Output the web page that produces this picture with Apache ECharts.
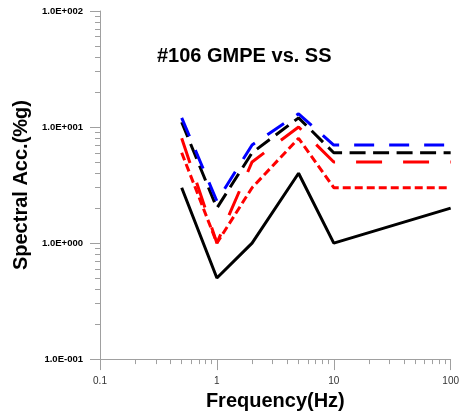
<!DOCTYPE html>
<html>
<head>
<meta charset="utf-8">
<script src="https://cdn.jsdelivr.net/npm/echarts@6/dist/echarts.min.js"></script>
<style>html,body{margin:0;padding:0;background:#fff;}#c{width:462px;height:416px;}</style>
</head>
<body>
<div id="c"></div>
<script>
var frequencies = [0.5, 1, 2, 5, 10, 100];
var blackSolid = [3, 0.5, 1.0, 4, 1.0, 2];
var redShortDash = [6, 1.0, 3, 8, 3, 3];
var redLongDash = [8, 1.0, 5, 10, 5, 5];
var blackDash = [11, 2, 6, 12, 6, 6];
var blueLongDash = [12, 2.3, 7, 13, 7, 7];
var xMinorTicks = [0.2,0.3,0.4,0.5,0.6,0.7,0.8,0.9,2,3,4,5,6,7,8,9,20,30,40,50,60,70,80,90];
var yMinorTicks = [0.2,0.3,0.4,0.5,0.6,0.7,0.8,0.9,2,3,4,5,6,7,8,9,20,30,40,50,60,70,80,90];
var titleText = '#106 GMPE vs. SS';
var xName = 'Frequency(Hz)';
var yName = 'Spectral Acc.(%g)';

function pairs(ys){ return frequencies.map(function(f,i){return [f, ys[i]];}); }
function expLabel(v){
  var e = Math.round(Math.log10(v));
  var s = e < 0 ? '-' : '+';
  var a = Math.abs(e);
  return '1.0E' + s + ('000' + a).slice(-3);
}
var axisGray = '#a0a0a0';
var chart = echarts.init(document.getElementById('c'));
function mkSeries(ys, color, dash){
  return {type:'line', data: pairs(ys), showSymbol:false, symbol:'none', animation:false,
    lineStyle:{color:color, width:3, type:dash}, xAxisIndex:0, yAxisIndex:0};
}
chart.setOption({
  animation:false,
  title:{text:titleText, left:157, top:46, padding:0,
    textStyle:{fontFamily:'Liberation Sans, Arial', fontWeight:'bold', fontSize:20, color:'#000'}},
  grid:{left:100, right:11, top:11, bottom:56, containLabel:false},
  xAxis:[
    {type:'log', logBase:10, min:0.1, max:100, position:'bottom',
      name:xName, nameLocation:'middle', nameGap:28,
      nameTextStyle:{fontFamily:'Liberation Sans, Arial', fontWeight:'bold', fontSize:20, color:'#000'},
      axisLine:{show:true, lineStyle:{color:axisGray, width:1}},
      axisTick:{show:true, length:11, inside:false, lineStyle:{color:axisGray}},
      axisLabel:{show:true, margin:17, fontFamily:'Liberation Sans, Arial', fontSize:10, color:'#333',
        formatter:function(v){return String(+v.toPrecision(3));}},
      splitLine:{show:false}, minorTick:{show:false}},
    {type:'log', logBase:10, min:0.1, max:100, position:'bottom', gridIndex:0,
      axisLine:{show:false},
      axisTick:{show:true, length:5, inside:false, customValues:xMinorTicks, lineStyle:{color:axisGray}},
      axisLabel:{show:false}, splitLine:{show:false}}
  ],
  yAxis:[
    {type:'log', logBase:10, min:0.1, max:100, position:'left',
      name:yName, nameLocation:'middle', nameGap:62, nameRotate:90,
      nameTextStyle:{fontFamily:'Liberation Sans, Arial', fontWeight:'bold', fontSize:20, color:'#000'},
      axisLine:{show:true, lineStyle:{color:axisGray, width:1}},
      axisTick:{show:true, length:10, inside:false, lineStyle:{color:axisGray}},
      axisLabel:{show:true, margin:17, fontFamily:'Liberation Sans, Arial', fontWeight:'bold', fontSize:9.5, color:'#000',
        formatter:expLabel},
      splitLine:{show:false}},
    {type:'log', logBase:10, min:0.1, max:100, position:'left', gridIndex:0,
      axisLine:{show:false},
      axisTick:{show:true, length:5, inside:false, customValues:yMinorTicks, lineStyle:{color:axisGray}},
      axisLabel:{show:false}, splitLine:{show:false}}
  ],
  series:[
    mkSeries(blackSolid, '#000000', 'solid'),
    mkSeries(redShortDash, '#ff0000', [8,4]),
    mkSeries(redLongDash, '#ff0000', [26,21]),
    mkSeries(blackDash, '#000000', [16,7.5]),
    mkSeries(blueLongDash, '#0000ff', [20,15])
  ]
});
</script>
</body>
</html>
